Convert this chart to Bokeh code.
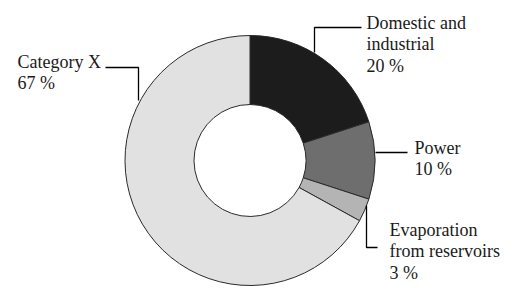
import math
from bokeh.plotting import figure
from bokeh.models import Range1d, ColumnDataSource
from bokeh.core.properties import value
from bokeh.embed import file_html
from bokeh.resources import INLINE

# ---- data ----
categories = ["Domestic and industrial", "Power", "Evaporation from reservoirs", "Category X"]
shares = [20, 10, 3, 67]
label_lines = [["Domestic and", "industrial", "20 %"],
               ["Power", "10 %"],
               ["Evaporation", "from reservoirs", "3 %"],
               ["Category X", "67 %"]]

# ---- style / layout ----
colors = ["#1c1c1c", "#6e6e6e", "#b4b4b4", "#e1e1e1"]
W, H = 518, 305
cx, cy = 249.5, H - 160
r_out, r_in = 125, 56

p = figure(width=W, height=H, output_backend="svg", toolbar_location=None,
           x_range=Range1d(0, W), y_range=Range1d(0, H), min_border=0)
p.axis.visible = False
p.grid.visible = False
p.outline_line_color = None
p.background_fill_color = "white"
p.border_fill_color = "white"

total = sum(shares)
starts, ends = [], []
cum = 0.0
for s in shares:
    a0 = math.pi / 2 - 2 * math.pi * (cum + s) / total
    a1 = math.pi / 2 - 2 * math.pi * cum / total
    starts.append(a0)
    ends.append(a1)
    cum += s

src = ColumnDataSource(dict(start=starts, end=ends, color=colors, cat=categories))
p.annular_wedge(x=cx, y=cy, inner_radius=r_in, outer_radius=r_out,
                start_angle="start", end_angle="end", fill_color="color",
                line_color="#2a2a2a", line_width=1, source=src)

# leader lines (pixel layout, y measured from top)
leaders = [
    [(314, 52), (314, 27), (361, 27)],
    [(375, 152), (407, 152)],
    [(366, 205), (366, 247), (377, 247)],
    [(138, 100), (138, 67), (105, 67)],
]
for pts in leaders:
    p.line([q[0] for q in pts], [H - q[1] for q in pts], line_color="black", line_width=1.3)

# label positions: left x, first baseline (pixel from top), line step
label_pos = [(366, 22, 21.5), (414, 147, 21.5), (389, 229, 21.5), (17, 61, 21)]
for lines, (lx, by, step) in zip(label_lines, label_pos):
    xs = [lx] * len(lines)
    ys = [H - (by + i * step) for i in range(len(lines))]
    p.text(x=xs, y=ys, text=lines, text_font=value("Liberation Serif"),
           text_font_size="18px", text_color="#1a1a1a",
           text_baseline="alphabetic", text_align="left")

open("out.html", "w").write(file_html(p, INLINE))
